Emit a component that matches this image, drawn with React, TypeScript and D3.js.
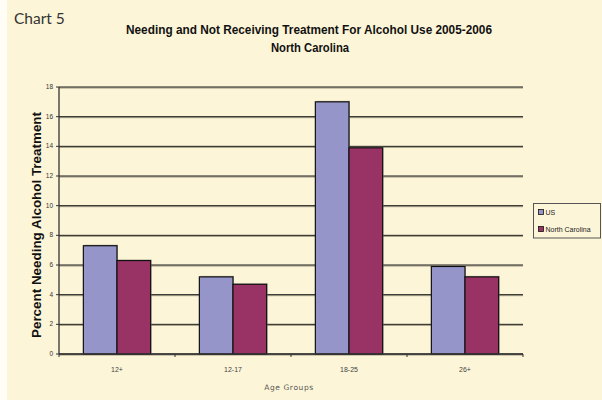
import React from "react";
import * as d3 from "d3";

// Age groups and the share (%) needing but not receiving alcohol treatment
const categories = ["12+", "12-17", "18-25", "26+"];
const seriesNames = ["US", "North Carolina"];
const usValues = [7.3, 5.2, 17.0, 5.9];
const ncValues = [6.3, 4.7, 13.9, 5.2];
const yTicks = [0, 2, 4, 6, 8, 10, 12, 14, 16, 18];

const W = 602;
const H = 400;
const BG = "#FDF5D8";
const COLORS = ["#9595C9", "#993366"];

export default function App() {
  const plot = { left: 59, right: 523, top: 87, bottom: 354 };

  const x0 = d3
    .scaleBand<string>()
    .domain(categories)
    .range([plot.left, plot.right])
    .paddingInner(0.42)
    .paddingOuter(0.21);
  const x1 = d3
    .scaleBand<string>()
    .domain(seriesNames)
    .range([0, x0.bandwidth()])
    .padding(0);
  const y = d3.scaleLinear().domain([0, 18]).range([plot.bottom, plot.top]);

  const series = [usValues, ncValues];
  const catStep = (plot.right - plot.left) / categories.length;
  const tickXs = d3.range(categories.length + 1).map((i) => plot.left + i * catStep);

  return (
    <svg
      width={W}
      height={H}
      style={{ position: "absolute", left: 0, top: 0, display: "block" }}
    >
      <rect x={0} y={0} width={W} height={H} fill="#FFFDF6" />
      <rect x={7} y={0} width={W - 7} height={H} fill={BG} />

      <text
        x={14}
        y={24}
        fontFamily="Lato, 'Open Sans', sans-serif"
        fontSize={15.5}
        fontWeight={400}
        fill="#333"
      >
        Chart 5
      </text>

      <text
        x={309}
        y={34}
        textAnchor="middle"
        fontFamily="'Liberation Sans Narrow', 'Liberation Sans', Arial, sans-serif"
        fontSize={13}
        fontWeight="bold"
        fill="#111"
        textLength={366}
        lengthAdjust="spacingAndGlyphs"
      >
        Needing and Not Receiving Treatment For Alcohol Use 2005-2006
      </text>
      <text
        x={310}
        y={52}
        textAnchor="middle"
        fontFamily="'Liberation Sans Narrow', 'Liberation Sans', Arial, sans-serif"
        fontSize={13}
        fontWeight="bold"
        fill="#111"
        textLength={78}
        lengthAdjust="spacingAndGlyphs"
      >
        North Carolina
      </text>

      {/* horizontal gridlines with a soft grey shadow */}
      {yTicks.map((t) => (
        <g key={"g" + t}>
          <line x1={plot.left} x2={plot.right} y1={y(t) + 1} y2={y(t) + 1} stroke="#9c9680" strokeWidth={1} />
          <line x1={plot.left} x2={plot.right} y1={y(t)} y2={y(t)} stroke="#1a1a1a" strokeWidth={1} />
        </g>
      ))}

      {/* bars */}
      {categories.map((c, ci) =>
        seriesNames.map((s, si) => {
          const v = series[si][ci];
          const bx = (x0(c) ?? 0) + (x1(s) ?? 0);
          return (
            <g key={c + s}>
              <rect
                x={bx + 1}
                y={y(v) - 1}
                width={x1.bandwidth()}
                height={plot.bottom - y(v)}
                fill="#8d8a78"
                opacity={0.6}
              />
              <rect
                x={bx}
                y={y(v)}
                width={x1.bandwidth()}
                height={plot.bottom - y(v)}
                fill={COLORS[si]}
                stroke="#111"
                strokeWidth={1.2}
              />
            </g>
          );
        })
      )}

      {/* y axis */}
      <line x1={plot.left} x2={plot.left} y1={plot.top} y2={plot.bottom} stroke="#333" strokeWidth={1.3} />
      {yTicks.map((t) => (
        <g key={"t" + t}>
          <line x1={plot.left - 3} x2={plot.left} y1={y(t)} y2={y(t)} stroke="#333" />
          <text
            x={plot.left - 6}
            y={y(t) + 2}
            textAnchor="end"
            fontFamily="'Liberation Sans Narrow', 'Liberation Sans', sans-serif"
            fontSize={6.5}
            fill="#333"
          >
            {t}
          </text>
        </g>
      ))}

      {/* x axis */}
      <line x1={plot.left} x2={plot.right} y1={plot.bottom} y2={plot.bottom} stroke="#333" strokeWidth={1.3} />
      {tickXs.map((tx, i) => (
        <line key={"xt" + i} x1={tx} x2={tx} y1={plot.bottom} y2={plot.bottom + 3} stroke="#333" />
      ))}
      {categories.map((c) => (
        <text
          key={"xl" + c}
          x={(x0(c) ?? 0) + x0.bandwidth() / 2}
          y={372}
          textAnchor="middle"
          fontFamily="'Liberation Sans Narrow', 'Liberation Sans', sans-serif"
          fontSize={7}
          fill="#444"
        >
          {c}
        </text>
      ))}
      <text
        x={289}
        y={390}
        textAnchor="middle"
        fontFamily="'DejaVu Sans', sans-serif"
        fontSize={7.5}
        fill="#555"
        letterSpacing={0.6}
      >
        Age Groups
      </text>

      <text
        transform={`translate(41, ${225}) rotate(-90)`}
        textAnchor="middle"
        fontFamily="'Liberation Sans', Arial, sans-serif"
        fontSize={12.5}
        fontWeight="bold"
        fill="#111"
        textLength={226}
        lengthAdjust="spacingAndGlyphs"
      >
        Percent Needing Alcohol Treatment
      </text>

      {/* legend */}
      <rect x={533.5} y={203.5} width={67} height={34.5} fill={BG} stroke="#555" strokeWidth={1} />
      {seriesNames.map((s, i) => (
        <g key={"lg" + s}>
          <rect
            x={538.5}
            y={209.5 + i * 17}
            width={5}
            height={5}
            fill={COLORS[i]}
            stroke="#111"
            strokeWidth={0.8}
          />
          <text
            x={545.5}
            y={215 + i * 17}
            fontFamily="'Liberation Sans Narrow', 'Liberation Sans', sans-serif"
            fontSize={7}
            fill="#222"
          >
            {s}
          </text>
        </g>
      ))}
    </svg>
  );
}
